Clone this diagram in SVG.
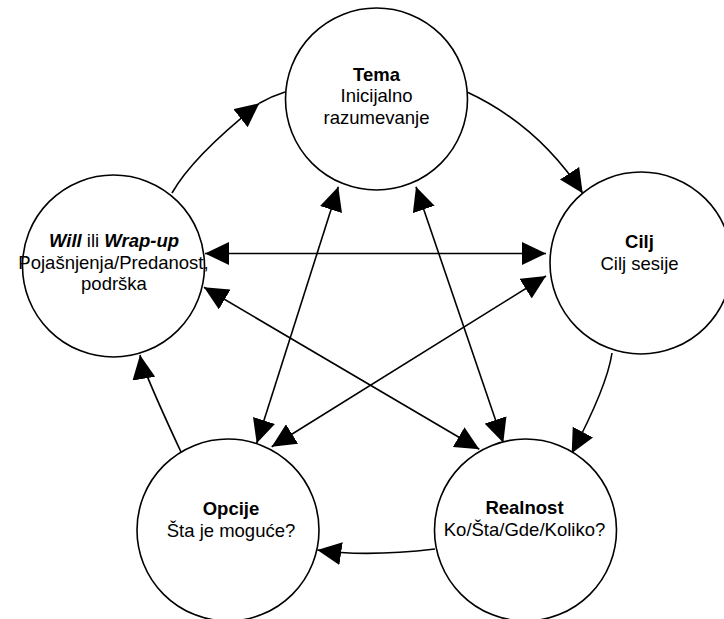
<svg xmlns="http://www.w3.org/2000/svg" width="724" height="619" viewBox="0 0 724 619">
<style>
.node{fill:#fff;stroke:#000;stroke-width:1.6}
.t{font-family:"Liberation Sans",Arial,sans-serif;font-size:18.5px;fill:#000;text-anchor:middle}
.b{font-weight:bold}
.bi{font-weight:bold;font-style:italic}
.c{fill:none;stroke:#000;stroke-width:1.6}
.one{marker-end:url(#ah)}
.two{marker-start:url(#ah);marker-end:url(#ah)}
</style>
<defs>
<marker id="ah" markerUnits="userSpaceOnUse" markerWidth="24" markerHeight="23" refX="24" refY="11.5" orient="auto-start-reverse" viewBox="0 0 24 23">
<path d="M0,0 L24,11.5 L0,23 Z" fill="#000"/>
</marker>
</defs>
<rect width="724" height="619" fill="#fff"/>
<g id="connectors">
<path class="c one" d="M467,92 Q538,125 582.7,193.3"/>
<path class="c one" d="M612,353 Q607,386.6 571.7,453.3"/>
<path class="c one" d="M435,549 Q365.6,557.2 317.3,550"/>
<path class="c one" d="M181,452 Q142.3,369 140,355"/>
<path class="c one" d="M172,193 Q192.7,156.2 259.3,103.3"/>
<path class="c" d="M259.3,103.3 Q272,96 285,92"/>
<path class="c two" d="M205,253.5 L546,253.5"/>
<path class="c two" d="M204,287.3 L479.3,449.3"/>
<path class="c two" d="M338.3,186.7 L256.7,443.3"/>
<path class="c two" d="M416,186.7 L503.3,442.7"/>
<path class="c two" d="M546,276 L271.7,446.7"/>
</g>
<g id="tema">
<circle class="node" cx="376.5" cy="99" r="91"/>
<text class="t b" x="376.5" y="81">Tema</text>
<text class="t" x="376.5" y="102">Inicijalno</text>
<text class="t" x="376.5" y="124">razumevanje</text>
</g>
<g id="cilj">
<circle class="node" cx="641" cy="263" r="91"/>
<text class="t b" x="639.5" y="248">Cilj</text>
<text class="t" x="639.5" y="270">Cilj sesije</text>
</g>
<g id="realnost">
<circle class="node" cx="525.5" cy="530" r="91"/>
<text class="t b" x="524.5" y="514">Realnost</text>
<text class="t" x="524.5" y="536">Ko/Šta/Gde/Koliko?</text>
</g>
<g id="opcije">
<circle class="node" cx="228" cy="530" r="91"/>
<text class="t b" x="231" y="515">Opcije</text>
<text class="t" x="231" y="537">Šta je moguće?</text>
</g>
<g id="will">
<circle class="node" cx="113.5" cy="266" r="91"/>
<text class="t" x="114" y="247"><tspan class="bi">Will</tspan> ili <tspan class="bi">Wrap-up</tspan></text>
<text class="t" x="113.5" y="269">Pojašnjenja/Predanost,</text>
<text class="t" x="114" y="290">podrška</text>
</g>
</svg>
